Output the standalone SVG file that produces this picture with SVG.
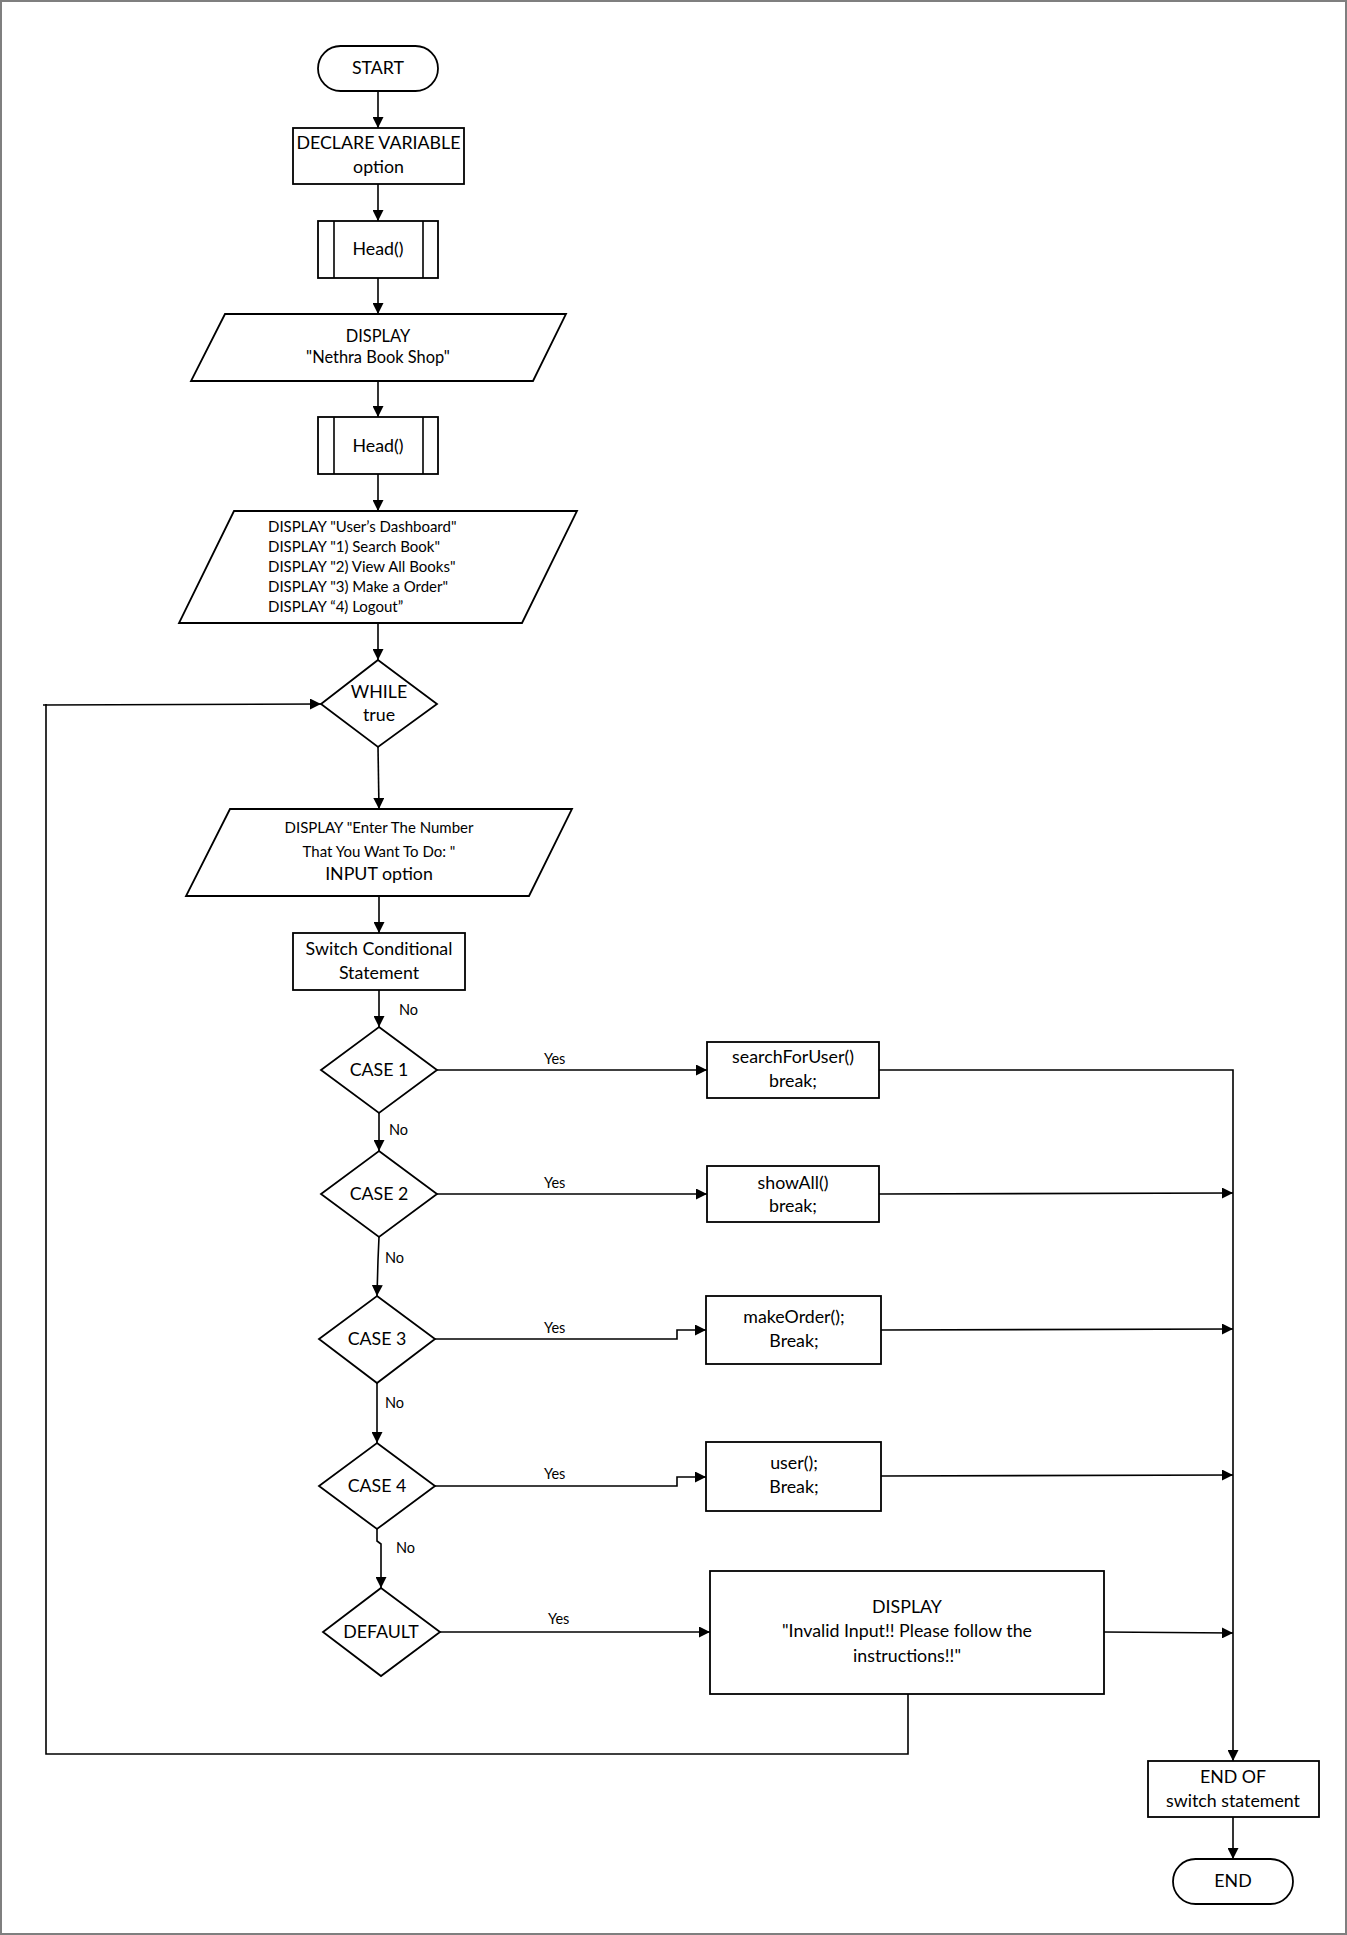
<svg xmlns="http://www.w3.org/2000/svg" width="1347" height="1935" viewBox="0 0 1347 1935">
  <defs>
    <marker id="arr" viewBox="0 0 10 10" refX="10" refY="5" markerWidth="11" markerHeight="11" markerUnits="userSpaceOnUse" orient="auto">
      <path d="M0,0 L10,5 L0,10 z" fill="#000"/>
    </marker>
    <style>
      .shape { fill: #fff; stroke: #000; stroke-width: 1.8; }
      .line { fill: none; stroke: #000; stroke-width: 1.6; }
      .arrow { fill: none; stroke: #000; stroke-width: 1.6; marker-end: url(#arr); }
      text { font-family: Lato, "Liberation Sans", sans-serif; fill: #000; }
      .c { text-anchor: middle; }
      .m { font-size: 17.8px; }
      .s { font-size: 15px; }
      .n { font-size: 16.4px; }
      .lbl { font-size: 14.5px; }
    </style>
  </defs>

  <rect x="1" y="1" width="1345" height="1933" fill="#fff" stroke="#7f7f7f" stroke-width="2"/>

  <g id="start">
    <rect class="shape" x="318" y="46" width="120" height="45" rx="22.5"/>
    <text class="c m" x="378" y="74">START</text>
  </g>

  <g id="declare">
    <rect class="shape" x="293" y="128" width="171" height="56"/>
    <text class="c m" x="378.5" y="149">DECLARE VARIABLE</text>
    <text class="c m" x="378.5" y="173">option</text>
  </g>

  <g id="head1">
    <rect class="shape" x="318" y="221" width="120" height="57"/>
    <line class="line" x1="334" y1="221" x2="334" y2="278"/>
    <line class="line" x1="423" y1="221" x2="423" y2="278"/>
    <text class="c m" x="378" y="255">Head()</text>
  </g>

  <g id="display-title">
    <polygon class="shape" points="225,314 566,314 533,381 191,381"/>
    <text class="c n" x="378" y="342">DISPLAY</text>
    <text class="c n" x="378" y="363">"Nethra Book Shop"</text>
  </g>

  <g id="head2">
    <rect class="shape" x="318" y="417" width="120" height="57"/>
    <line class="line" x1="334" y1="417" x2="334" y2="474"/>
    <line class="line" x1="423" y1="417" x2="423" y2="474"/>
    <text class="c m" x="378" y="452">Head()</text>
  </g>

  <g id="display-menu">
    <polygon class="shape" points="234,511 577,511 522,623 179,623"/>
    <text class="s" x="268" y="532">DISPLAY "User’s Dashboard"</text>
    <text class="s" x="268" y="552">DISPLAY "1) Search Book"</text>
    <text class="s" x="268" y="572">DISPLAY "2) View All Books"</text>
    <text class="s" x="268" y="592">DISPLAY "3) Make a Order"</text>
    <text class="s" x="268" y="612">DISPLAY “4) Logout”</text>
  </g>

  <g id="while">
    <polygon class="shape" points="378,660 437,704 378,747 321,704"/>
    <text class="c m" x="379" y="698">WHILE</text>
    <text class="c m" x="379" y="721">true</text>
  </g>

  <g id="input-option">
    <polygon class="shape" points="230,809 572,809 529,896 186,896"/>
    <text class="c s" x="379" y="833">DISPLAY "Enter The Number</text>
    <text class="c s" x="379" y="857">That You Want To Do: "</text>
    <text class="c m" x="379" y="880">INPUT option</text>
  </g>

  <g id="switch">
    <rect class="shape" x="293" y="933" width="172" height="57"/>
    <text class="c m" x="379" y="955">Switch Conditional</text>
    <text class="c m" x="379" y="979">Statement</text>
  </g>

  <g id="case1">
    <polygon class="shape" points="379,1027 437,1070 379,1113 321,1070"/>
    <text class="c m" x="379" y="1076">CASE 1</text>
  </g>
  <g id="search-for-user">
    <rect class="shape" x="707" y="1042" width="172" height="56"/>
    <text class="c m" x="793" y="1063">searchForUser()</text>
    <text class="c m" x="793" y="1087">break;</text>
  </g>

  <g id="case2">
    <polygon class="shape" points="379,1151 437,1194 379,1237 321,1194"/>
    <text class="c m" x="379" y="1200">CASE 2</text>
  </g>
  <g id="show-all">
    <rect class="shape" x="707" y="1166" width="172" height="56"/>
    <text class="c m" x="793" y="1189">showAll()</text>
    <text class="c m" x="793" y="1212">break;</text>
  </g>

  <g id="case3">
    <polygon class="shape" points="377,1296 435,1339 377,1383 319,1339"/>
    <text class="c m" x="377" y="1345">CASE 3</text>
  </g>
  <g id="make-order">
    <rect class="shape" x="706" y="1296" width="175" height="68"/>
    <text class="c m" x="794" y="1323">makeOrder();</text>
    <text class="c m" x="794" y="1347">Break;</text>
  </g>

  <g id="case4">
    <polygon class="shape" points="377,1443 435,1486 377,1529 319,1486"/>
    <text class="c m" x="377" y="1492">CASE 4</text>
  </g>
  <g id="user">
    <rect class="shape" x="706" y="1442" width="175" height="69"/>
    <text class="c m" x="794" y="1469">user();</text>
    <text class="c m" x="794" y="1493">Break;</text>
  </g>

  <g id="default">
    <polygon class="shape" points="381,1588 440,1632 381,1676 323,1632"/>
    <text class="c m" x="381" y="1638">DEFAULT</text>
  </g>
  <g id="invalid-input">
    <rect class="shape" x="710" y="1571" width="394" height="123"/>
    <text class="c m" x="907" y="1613">DISPLAY</text>
    <text class="c m" x="907" y="1637">"Invalid Input!! Please follow the</text>
    <text class="c m" x="907" y="1662">instructions!!"</text>
  </g>

  <g id="end-of-switch">
    <rect class="shape" x="1148" y="1761" width="171" height="56"/>
    <text class="c m" x="1233" y="1783">END OF</text>
    <text class="c m" x="1233" y="1807">switch statement</text>
  </g>

  <g id="end">
    <rect class="shape" x="1173" y="1859" width="120" height="45" rx="22.5"/>
    <text class="c m" x="1233" y="1887">END</text>
  </g>

  <g id="connectors">
    <!-- main vertical flow -->
    <line class="arrow" x1="378" y1="91" x2="378" y2="128"/>
    <line class="arrow" x1="378" y1="184" x2="378" y2="221"/>
    <line class="arrow" x1="378" y1="278" x2="378" y2="314"/>
    <line class="arrow" x1="378" y1="381" x2="378" y2="417"/>
    <line class="arrow" x1="378" y1="474" x2="378" y2="511"/>
    <line class="arrow" x1="378" y1="623" x2="378" y2="660"/>
    <line class="arrow" x1="378" y1="747" x2="379" y2="809"/>
    <line class="arrow" x1="379" y1="896" x2="379" y2="933"/>

    <!-- "No" branches down the case chain -->
    <line class="arrow" x1="379" y1="990" x2="379" y2="1027"/>
    <line class="arrow" x1="379" y1="1113" x2="379" y2="1151"/>
    <path class="arrow" d="M379,1237 L378,1260 L377,1296"/>
    <line class="arrow" x1="377" y1="1383" x2="377" y2="1443"/>
    <path class="arrow" d="M377,1529 V1541 L381,1544 V1588"/>
    <text class="lbl" x="399" y="1015">No</text>
    <text class="lbl" x="389" y="1135">No</text>
    <text class="lbl" x="385" y="1263">No</text>
    <text class="lbl" x="385" y="1408">No</text>
    <text class="lbl" x="396" y="1553">No</text>

    <!-- "Yes" branches to the case actions -->
    <line class="arrow" x1="437" y1="1070" x2="707" y2="1070"/>
    <line class="arrow" x1="437" y1="1194" x2="707" y2="1194"/>
    <path class="arrow" d="M435,1339 H677 V1330 H706"/>
    <path class="arrow" d="M435,1486 H677 V1477 H706"/>
    <line class="arrow" x1="440" y1="1632" x2="710" y2="1632"/>
    <text class="lbl" x="544" y="1064">Yes</text>
    <text class="lbl" x="544" y="1188">Yes</text>
    <text class="lbl" x="544" y="1333">Yes</text>
    <text class="lbl" x="544" y="1479">Yes</text>
    <text class="lbl" x="548" y="1624">Yes</text>

    <!-- collector to the end of the switch -->
    <path class="arrow" d="M879,1070 H1233 V1761"/>
    <line class="arrow" x1="879" y1="1194" x2="1233" y2="1193"/>
    <line class="arrow" x1="881" y1="1330" x2="1233" y2="1329"/>
    <line class="arrow" x1="881" y1="1476" x2="1233" y2="1475"/>
    <line class="arrow" x1="1104" y1="1632" x2="1233" y2="1633"/>
    <line class="arrow" x1="1233" y1="1817" x2="1233" y2="1859"/>

    <!-- loop back to WHILE -->
    <path class="line" d="M908,1694 V1754 H46 V704"/>
    <line class="arrow" x1="43" y1="705" x2="321" y2="704"/>
  </g>
</svg>
